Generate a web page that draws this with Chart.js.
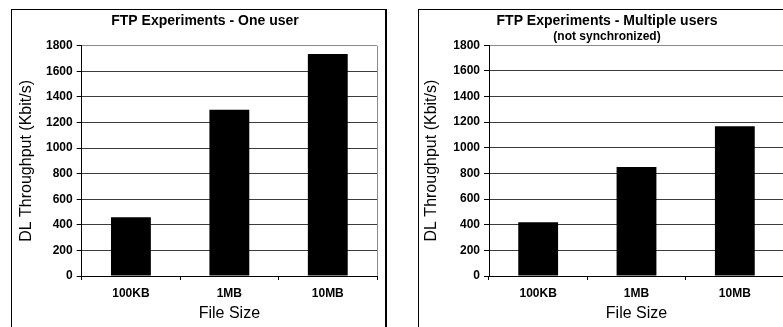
<!DOCTYPE html>
<html>
<head>
<meta charset="utf-8">
<script src="https://cdn.jsdelivr.net/npm/chart.js@4"></script>
<style>
    html, body { margin: 0; padding: 0; background: #fff; }
    body { width: 783px; height: 327px; position: relative; overflow: hidden; }
    .frame { position: absolute; border: 1px solid #000; box-sizing: border-box; }
    canvas { position: absolute; top: 0; }
</style>
</head>
<body>
<div class="frame" style="left:11px; top:9px; width:376px; height:400px; border-right-width:2px;"></div>
<div class="frame" style="left:418px; top:9px; width:400px; height:400px;"></div>
<canvas id="oneUser" width="392" height="327" style="left:0px"></canvas>
<canvas id="multiUser" width="400" height="327" style="left:400px"></canvas>
<script>
// Dados
const fileSizes = ['100KB', '1MB', '10MB'];
const oneUserKbps = [460, 1300, 1735];
const multiUserKbps = [420, 850, 1167];
const yTicks = [0, 200, 400, 600, 800, 1000, 1200, 1400, 1600, 1800];

const FONT = "'Liberation Sans', Arial, sans-serif";
Chart.defaults.font.family = FONT;
Chart.defaults.color = '#000';

function gridColor(ctx) {
    if (ctx.tick && ctx.tick.value === 1800) return '#8c8c8c';
    if (ctx.tick && ctx.tick.value === 0) return '#000';
    return '#3c3c3c';
}

function makeChart(id, values, title, subtitle, pad, yTitlePad, yWidth) {
    const ctx = document.getElementById(id).getContext('2d');
    return new Chart(ctx, {
        type: 'bar',
        data: {
            labels: fileSizes,
            datasets: [{
                data: values,
                backgroundColor: '#000',
                borderWidth: 0,
                barPercentage: 0.405,
                categoryPercentage: 1
            }]
        },
        options: {
            responsive: false,
            animation: false,
            layout: { padding: pad },
            plugins: {
                legend: { display: false },
                tooltip: { enabled: false },
                title: {
                    display: true,
                    text: title,
                    font: { size: 14, weight: 'bold' },
                    color: '#000',
                    padding: subtitle ? { top: 13, bottom: 0 } : { top: 13, bottom: 16 }
                },
                subtitle: {
                    display: !!subtitle,
                    text: subtitle || '',
                    font: { size: 12, weight: 'bold' },
                    color: '#000',
                    padding: { top: 0, bottom: 1 }
                }
            },
            scales: {
                x: {
                    afterFit: function(s) { s.height = 51; },
                    grid: {
                        color: function(c) { return c.index === undefined ? '#8c8c8c' : 'rgba(0,0,0,0)'; },
                        tickColor: '#000',
                        tickLength: 4
                    },
                    border: { color: '#000', width: 1 },
                    ticks: { font: { size: 12, weight: 'bold' }, padding: 6 },
                    title: {
                        display: true,
                        text: 'File Size',
                        font: { size: 16 },
                        padding: { top: 0, bottom: 4 }
                    }
                },
                y: {
                    min: 0,
                    max: 1800,
                    afterFit: function(s) { s.width = yWidth; },
                    afterBuildTicks: function(s) { s.ticks = yTicks.map(v => ({ value: v })); },
                    grid: { color: gridColor, tickColor: '#000', tickLength: 5 },
                    border: { color: '#000', width: 1 },
                    ticks: {
                        font: { size: 12, weight: 'bold' },
                        padding: 4,
                        callback: function(value) { return String(value); }
                    },
                    title: {
                        display: true,
                        text: 'DL Throughput (Kbit/s)',
                        font: { size: 16 },
                        padding: { top: yTitlePad, bottom: 0 }
                    }
                }
            }
        }
    });
}

makeChart('oneUser', oneUserKbps, 'FTP Experiments - One user', null,
    { left: 33, right: 15, top: 0, bottom: 0 }, -16, 48.7);
makeChart('multiUser', multiUserKbps, 'FTP Experiments - Multiple users', '(not synchronized)',
    { left: 30, right: 16, top: 0, bottom: 0 }, -8, 59);
</script>
</body>
</html>
